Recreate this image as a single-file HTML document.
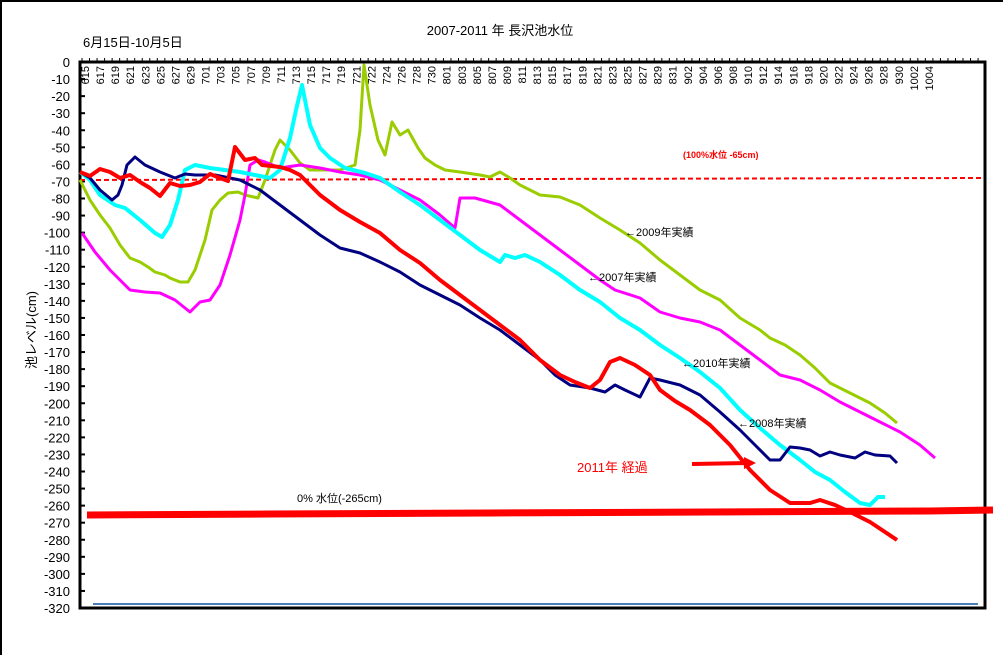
<!DOCTYPE html>
<html><head><meta charset="utf-8"><style>
html,body{margin:0;padding:0;background:#fff}
svg{display:block}
text{font-family:"Liberation Sans","Noto Sans CJK JP",sans-serif}
</style></head><body>
<svg width="1003" height="655" viewBox="0 0 1003 655" xmlns="http://www.w3.org/2000/svg">
<rect x="0" y="0" width="1003" height="655" fill="#fff"/>
<line x1="1" y1="0" x2="1" y2="655" stroke="#000" stroke-width="2"/>
<line x1="0" y1="1" x2="1003" y2="1" stroke="#000" stroke-width="2"/>
<text x="500" y="35" font-size="13" text-anchor="middle">2007-2011 年 長沢池水位</text>
<text x="83" y="47" font-size="13">6月15日-10月5日</text>
<!-- plot frame -->
<rect x="80" y="62" width="905" height="546" fill="none" stroke="#000" stroke-width="3"/>
<g id="yt" font-size="13" text-anchor="end"></g>
<g id="xt"></g>
<text transform="translate(36,330) rotate(-90)" font-size="13" text-anchor="middle">池レベル(cm)</text>
<!-- reference lines -->
<line x1="80" y1="180" x2="984" y2="178" stroke="#f00" stroke-width="2" stroke-dasharray="5,3"/>
<polyline points="87,515 270,514 490,513 710,512 930,511 993,510" fill="none" stroke="#f00" stroke-width="7"/>
<line x1="93" y1="604" x2="978" y2="604" stroke="#4a7ebb" stroke-width="2"/>
<text x="683" y="158" font-size="9" font-weight="bold" fill="#f00">(100%水位 -65cm)</text>
<text x="297" y="502" font-size="11">0% 水位(-265cm)</text>
<!-- series -->
<polyline fill="none" stroke="#9acd00" stroke-width="3" stroke-linejoin="round" points="80,180 90,200 100,215 110,228 120,245 130,258 140,262 148,267 155,272 165,275 170,278 180,282 188,282 195,270 205,240 212,210 220,200 228,193 238,192 245,195 258,198 265,180 275,150 280,140 290,150 300,163 310,170 320,170 340,170 355,165 360,130 364,65 370,105 378,140 385,155 392,122 400,135 408,130 418,148 425,158 435,165 445,170 460,172 480,175 490,177 500,172 510,178 520,185 540,195 560,197 580,205 600,218 620,230 640,243 660,260 680,275 700,290 720,300 740,318 760,330 770,338 785,345 800,355 815,368 830,383 850,393 870,403 885,413 897,423"/>
<polyline fill="none" stroke="#ff00ff" stroke-width="3" stroke-linejoin="round" points="82,233 95,252 110,270 125,285 130,290 145,292 160,293 175,300 190,312 200,302 210,300 220,285 230,255 240,220 245,195 250,165 258,160 265,162 280,168 300,165 320,168 340,172 360,175 380,180 400,190 420,200 440,215 455,228 460,198 475,198 500,205 520,220 540,235 560,250 580,265 600,280 615,290 640,298 660,312 680,318 700,322 720,330 740,345 760,360 780,375 800,380 820,390 840,402 860,412 880,422 900,432 920,445 935,458"/>
<polyline fill="none" stroke="#00ffff" stroke-width="4" stroke-linejoin="round" points="80,172 90,180 100,195 115,205 125,208 140,220 155,233 162,237 170,225 178,200 185,170 195,165 210,168 225,170 240,172 255,175 270,178 280,170 290,138 296,110 302,85 310,125 320,148 330,158 345,168 365,173 380,178 400,192 420,205 440,220 460,235 480,250 500,262 505,255 515,258 525,255 540,262 560,275 580,290 600,302 620,318 640,330 660,345 680,358 700,372 720,388 740,410 760,428 780,445 800,460 815,472 830,480 845,492 860,503 870,505 878,497 885,497"/>
<polyline fill="none" stroke="#000080" stroke-width="3" stroke-linejoin="round" points="80,172 90,178 100,190 112,200 118,195 122,185 127,165 135,157 145,165 160,172 175,178 185,174 195,175 215,175 240,180 260,190 280,205 300,220 320,235 340,248 360,253 380,262 400,272 420,285 440,295 460,305 480,318 500,330 520,345 540,360 555,375 570,385 590,388 605,392 615,385 625,390 640,397 650,378 660,380 680,385 700,395 720,412 740,430 755,445 770,460 780,460 790,447 800,448 810,450 820,456 830,452 840,455 855,458 865,452 875,455 890,456 897,463"/>
<polyline fill="none" stroke="#ff0000" stroke-width="4" stroke-linejoin="round" points="80,172 90,176 100,169 110,172 120,178 130,175 140,182 150,188 160,196 170,183 180,186 190,185 200,182 210,174 220,178 228,181 235,147 245,160 255,158 262,165 280,167 290,170 300,175 320,195 340,210 360,222 380,233 400,250 420,263 440,280 460,295 480,310 500,325 520,340 540,360 560,375 575,382 590,388 600,380 610,362 620,358 635,365 650,375 660,390 675,401 690,410 710,425 730,445 750,470 770,490 790,503 810,503 820,500 835,505 850,512 870,522 885,532 897,540"/>
<!-- annotations -->
<text x="625" y="236" font-size="11">←2009年実績</text>
<text x="588" y="281" font-size="11">←2007年実績</text>
<text x="682" y="367" font-size="11">←2010年実績</text>
<text x="738" y="427" font-size="11">←2008年実績</text>
<text x="577" y="472" font-size="13" fill="#f00">2011年 経過</text>
<line x1="692" y1="464" x2="748" y2="463" stroke="#f00" stroke-width="4"/>
<polygon points="744,457 756,463 744,469" fill="#f00"/>
</svg>
<script>
var ns="http://www.w3.org/2000/svg",svg=document.querySelector('svg');
var yt=document.getElementById('yt'),xt=document.getElementById('xt');
for(var v=0;v<=32;v++){var y=62+v*10*546/320;
 var t=document.createElementNS(ns,'text');t.setAttribute('x',70);t.setAttribute('y',y+5);t.textContent=v==0?'0':'-'+(v*10);yt.appendChild(t);
 var l=document.createElementNS(ns,'line');l.setAttribute('x1',80);l.setAttribute('x2',85);l.setAttribute('y1',y);l.setAttribute('y2',y);l.setAttribute('stroke','#000');l.setAttribute('stroke-width',2);xt.appendChild(l);}
for(var i=0;i<120;i++){var x=82+i*7.53;if(x>984)break;
 var l=document.createElementNS(ns,'line');l.setAttribute('x1',x);l.setAttribute('x2',x);l.setAttribute('y1',58);l.setAttribute('y2',62);l.setAttribute('stroke','#000');xt.appendChild(l);}
var labs=[];[15,17,19,21,23,25,27,29].forEach(d=>labs.push('6'+d));
['01','03','05','07','09','11','13','15','17','19','21','22','24','26','28','30'].forEach(d=>labs.push('7'+d));
for(var d=1;d<=31;d+=2)labs.push('8'+(d<10?'0'+d:d));
for(var d=2;d<=30;d+=2)labs.push('9'+(d<10?'0'+d:d));
labs.push('1002','1004');
labs.forEach(function(s,i){var x=85+i*15.07;var t=document.createElementNS(ns,'text');
 t.setAttribute('transform','translate('+(x+4)+',66) rotate(-90)');t.setAttribute('font-size','11');t.setAttribute('text-anchor','end');t.textContent=s;xt.appendChild(t);});
</script>
</body></html>
